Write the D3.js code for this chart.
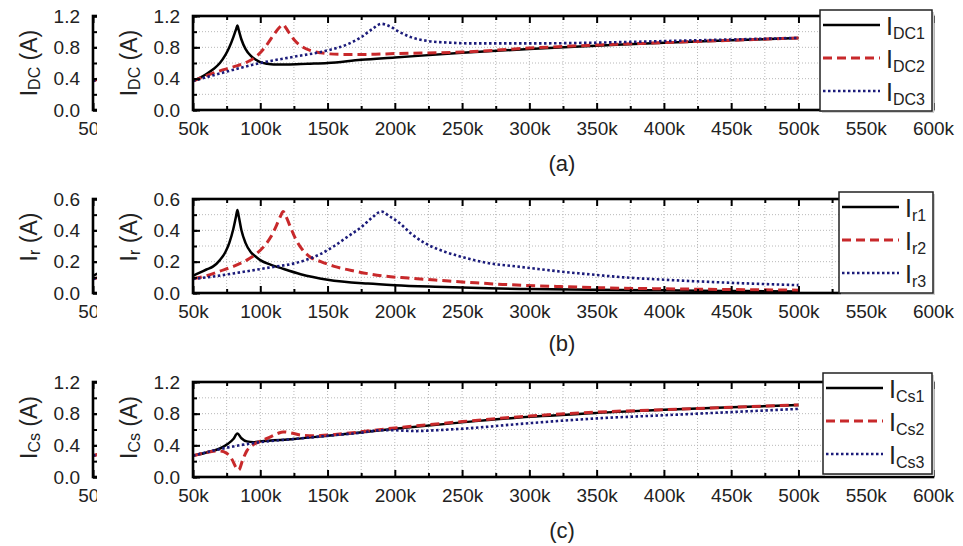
<!DOCTYPE html>
<html>
<head>
<meta charset="utf-8">
<script src="https://cdn.jsdelivr.net/npm/d3@7"></script>
<style>
  body { margin: 0; background: #fff; }
  text { font-family: 'Liberation Sans', Arial, sans-serif; }
</style>
</head>
<body>
<div id="chart"></div>
<script>
// Frequency in kHz, current in A
const iDC1 = [[50,0.37],[55,0.41],[60,0.46],[65,0.52],[70,0.60],[74,0.70],[77,0.80],[80,0.93],[82,1.03],[83,1.08],[84,1.02],[86,0.90],[89,0.78],[93,0.69],[97,0.64],[100,0.61],[105,0.59],[110,0.58],[120,0.58],[135,0.59],[150,0.60],[175,0.64],[200,0.67],[250,0.73],[300,0.78],[350,0.82],[400,0.86],[450,0.89],[500,0.92]];
const iDC2 = [[50,0.37],[60,0.44],[70,0.50],[80,0.55],[90,0.61],[96,0.67],[101,0.75],[106,0.86],[110,0.96],[114,1.05],[117,1.09],[119,1.05],[122,0.97],[126,0.88],[131,0.81],[137,0.76],[145,0.73],[160,0.71],[180,0.71],[200,0.72],[250,0.74],[300,0.79],[350,0.83],[400,0.86],[450,0.89],[500,0.92]];
const iDC3 = [[50,0.37],[75,0.49],[100,0.60],[125,0.68],[150,0.76],[165,0.84],[175,0.93],[183,1.03],[190,1.10],[196,1.07],[203,1.00],[212,0.93],[225,0.88],[240,0.86],[260,0.85],[300,0.85],[350,0.86],[400,0.88],[450,0.90],[500,0.92]];

const ir1 = [[50,0.11],[55,0.13],[60,0.15],[65,0.17],[70,0.21],[74,0.26],[77,0.32],[80,0.41],[82,0.49],[83,0.53],[84,0.49],[86,0.40],[89,0.32],[93,0.26],[97,0.23],[100,0.21],[108,0.18],[115,0.16],[130,0.12],[150,0.085],[180,0.06],[200,0.05],[230,0.04],[270,0.03],[300,0.025],[350,0.02],[400,0.017],[450,0.013],[500,0.01]];
const ir2 = [[50,0.09],[60,0.11],[70,0.14],[80,0.17],[90,0.21],[97,0.25],[103,0.30],[108,0.36],[112,0.43],[115,0.49],[117,0.52],[119,0.49],[122,0.43],[126,0.35],[131,0.28],[137,0.23],[145,0.20],[155,0.17],[170,0.14],[190,0.11],[210,0.095],[230,0.083],[260,0.065],[280,0.055],[320,0.042],[360,0.032],[400,0.027],[450,0.022],[500,0.018]];
const ir3 = [[50,0.09],[65,0.105],[80,0.125],[105,0.16],[130,0.20],[145,0.25],[155,0.30],[165,0.36],[175,0.42],[183,0.48],[190,0.52],[196,0.49],[203,0.45],[212,0.38],[222,0.32],[235,0.27],[250,0.23],[270,0.19],[290,0.17],[320,0.14],[350,0.115],[370,0.10],[400,0.085],[450,0.065],[500,0.05]];

const iCs1 = [[50,0.27],[60,0.31],[70,0.36],[76,0.42],[80,0.48],[83,0.55],[86,0.49],[90,0.45],[95,0.44],[100,0.45],[125,0.48],[150,0.52],[200,0.61],[250,0.69],[300,0.76],[350,0.81],[400,0.85],[450,0.88],[500,0.91]];
const iCs2 = [[50,0.27],[60,0.31],[70,0.33],[75,0.30],[79,0.22],[82,0.12],[84,0.09],[87,0.22],[90,0.33],[95,0.41],[100,0.45],[108,0.51],[113,0.55],[117,0.57],[122,0.56],[130,0.53],[140,0.52],[150,0.53],[200,0.62],[250,0.70],[300,0.77],[350,0.82],[400,0.85],[450,0.88],[500,0.91]];
const iCs3 = [[50,0.27],[75,0.37],[100,0.44],[125,0.48],[150,0.52],[175,0.56],[190,0.59],[200,0.59],[215,0.58],[230,0.59],[250,0.61],[300,0.68],[350,0.74],[400,0.78],[450,0.82],[500,0.86]];

const xTicks = [50, 100, 150, 200, 250, 300, 350, 400, 450, 500, 550, 600];
const dcNames = ['DC1', 'DC2', 'DC3'];
const rNames = ['r1', 'r2', 'r3'];
const csNames = ['Cs1', 'Cs2', 'Cs3'];
const yTicksA = [0, 0.4, 0.8, 1.2];
const yTicksB = [0, 0.2, 0.4, 0.6];
const yTicksC = [0, 0.4, 0.8, 1.2];
const captions = ['(a)', '(b)', '(c)'];

const width = 963;
const height = 546;
const fontSize = 19;
const cropShift = 100;

const styles = [
  {color: '#000000', width: 2.5, dash: null},
  {color: '#c8292b', width: 3, dash: '9,5'},
  {color: '#1b1b7a', width: 2.6, dash: '2.5,2.5'}
];

const panels = [
  {top: 16, bottom: 110, yTicks: yTicksA, yMinor: 0.2, sub: 'DC', series: [iDC1, iDC2, iDC3], names: dcNames,
   caption: captions[0], captionY: 171, legend: {x: 820, y: 10, w: 112}, labelShift: 0},
  {top: 199, bottom: 293, yTicks: yTicksB, yMinor: 0.1, sub: 'r', series: [ir1, ir2, ir3], names: rNames,
   caption: captions[1], captionY: 351, legend: {x: 839, y: 192, w: 94}, labelShift: -9},
  {top: 382, bottom: 477, yTicks: yTicksC, yMinor: 0.2, sub: 'Cs', series: [iCs1, iCs2, iCs3], names: csNames,
   caption: captions[2], captionY: 538, legend: {x: 823, y: 373, w: 109}, labelShift: -2}
];

const x = d3.scaleLinear().domain([50, 600]).range([193, 933]);

const svg = d3.select('#chart')
  .append('svg')
  .attr('width', width)
  .attr('height', height);

// left copy of each panel is cropped like in the source figure
svg.append('defs').append('clipPath')
  .attr('id', 'leftCrop')
  .append('rect')
  .attr('x', 0).attr('y', 0)
  .attr('width', 97).attr('height', height);

function styleAxis(a) {
  a.select('.domain').remove();
  a.selectAll('line').attr('stroke', '#000').attr('stroke-width', 2);
  a.attr('font-size', fontSize).attr('font-family', "'Liberation Sans', Arial, sans-serif");
  a.selectAll('text').attr('fill', '#222');
}

function drawPanel(g, p, cropped) {
  const yMax = p.yTicks[p.yTicks.length - 1];
  const y = d3.scaleLinear().domain([0, yMax]).range([p.bottom, p.top]);
  // the cropped copy only keeps what stays visible left of the cut
  const xLabelTicks = cropped ? xTicks.slice(0, 1) : xTicks;

  // grid
  const grid = g.append('g')
    .attr('stroke', '#b8b8b8')
    .attr('stroke-width', 1)
    .attr('stroke-dasharray', '1,2');
  grid.selectAll('.v').data(d3.range(75, 600, 25)).join('line')
    .attr('class', 'v')
    .attr('x1', d => x(d)).attr('x2', d => x(d))
    .attr('y1', p.top).attr('y2', p.bottom);
  grid.selectAll('.h').data(d3.range(1, Math.round(yMax / p.yMinor)).map(i => i * p.yMinor)).join('line')
    .attr('class', 'h')
    .attr('x1', x(50)).attr('x2', x(600))
    .attr('y1', d => y(d)).attr('y2', d => y(d));

  // curves
  const line = d3.line()
    .x(d => x(d[0]))
    .y(d => y(d[1]))
    .curve(d3.curveMonotoneX);

  p.series.forEach((s, i) => {
    g.append('path')
      .datum(s)
      .attr('fill', 'none')
      .attr('stroke', styles[i].color)
      .attr('stroke-width', styles[i].width)
      .attr('stroke-dasharray', styles[i].dash)
      .attr('d', line);
  });

  // axes, ticks pointing inwards
  const xMinor = d3.range(75, 600, 50);
  const yMinor = d3.range(0, Math.round(yMax / p.yMinor) + 1).map(i => i * p.yMinor);

  g.append('g')
    .attr('transform', `translate(0, ${p.bottom})`)
    .call(d3.axisBottom(x).tickValues(xLabelTicks).tickFormat(d => d + 'k').tickSize(-7).tickPadding(12))
    .call(styleAxis);
  g.append('g')
    .attr('transform', `translate(0, ${p.bottom})`)
    .call(d3.axisBottom(x).tickValues(xMinor).tickFormat('').tickSize(-4))
    .call(styleAxis);
  g.append('g')
    .attr('transform', `translate(0, ${p.top})`)
    .call(d3.axisTop(x).tickValues(xTicks).tickFormat('').tickSize(-7))
    .call(styleAxis);
  g.append('g')
    .attr('transform', `translate(0, ${p.top})`)
    .call(d3.axisTop(x).tickValues(xMinor).tickFormat('').tickSize(-4))
    .call(styleAxis);
  g.append('g')
    .attr('transform', `translate(${x(50)}, 0)`)
    .call(d3.axisLeft(y).tickValues(p.yTicks).tickFormat(d3.format('.1f')).tickSize(-7).tickPadding(13))
    .call(styleAxis);
  g.append('g')
    .attr('transform', `translate(${x(50)}, 0)`)
    .call(d3.axisLeft(y).tickValues(yMinor).tickFormat('').tickSize(-4))
    .call(styleAxis);

  // frame
  g.append('rect')
    .attr('x', x(50))
    .attr('y', p.top)
    .attr('width', x(600) - x(50))
    .attr('height', p.bottom - p.top)
    .attr('fill', 'none')
    .attr('stroke', '#000')
    .attr('stroke-width', 2.6);

  // y label
  const lab = g.append('text')
    .attr('transform', `translate(137, ${(p.top + p.bottom) / 2 + p.labelShift}) rotate(-90)`)
    .attr('text-anchor', 'middle')
    .attr('font-size', 23)
    .attr('fill', '#222');
  lab.append('tspan').text('I');
  lab.append('tspan').attr('font-size', 16).attr('dy', 3).text(p.sub);
  lab.append('tspan').attr('dy', -3).text(' (A)');

  if (cropped) return;

  // caption
  g.append('text')
    .attr('x', 562)
    .attr('y', p.captionY)
    .attr('text-anchor', 'middle')
    .attr('font-size', 22)
    .attr('fill', '#222')
    .text(p.caption);

  // legend
  const lg = g.append('g').attr('transform', `translate(${p.legend.x}, ${p.legend.y})`);
  lg.append('rect')
    .attr('x', 2).attr('y', 2)
    .attr('width', p.legend.w).attr('height', 101)
    .attr('fill', '#d0d0d0');
  lg.append('rect')
    .attr('width', p.legend.w).attr('height', 101)
    .attr('fill', '#fff')
    .attr('stroke', '#222')
    .attr('stroke-width', 1.5);

  p.names.forEach((n, i) => {
    const yy = 15 + i * 33;
    lg.append('line')
      .attr('x1', 3).attr('x2', 60)
      .attr('y1', yy).attr('y2', yy)
      .attr('stroke', styles[i].color)
      .attr('stroke-width', styles[i].width)
      .attr('stroke-dasharray', styles[i].dash);
    const t = lg.append('text')
      .attr('x', 66)
      .attr('y', yy + 10)
      .attr('font-size', 25)
      .attr('fill', '#222');
    t.append('tspan').text('I');
    t.append('tspan').attr('font-size', 16).attr('dy', 4).text(n);
  });
}

panels.forEach(p => {
  drawPanel(svg.append('g'), p, false);
  drawPanel(svg.append('g').attr('clip-path', 'url(#leftCrop)')
    .append('g').attr('transform', `translate(${-cropShift}, 0)`), p, true);
});
</script>
</body>
</html>
